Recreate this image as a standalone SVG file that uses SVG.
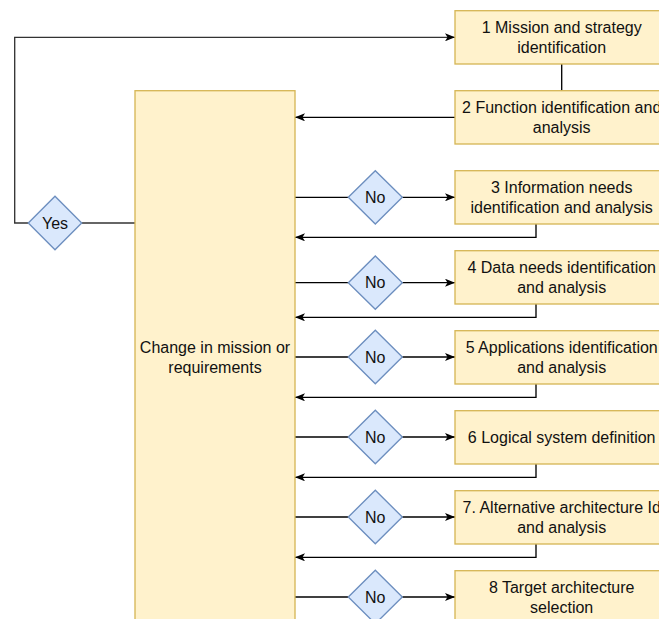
<svg xmlns="http://www.w3.org/2000/svg" width="659" height="619" viewBox="0 0 659 619">
<style>
.box{fill:#fff2cc;stroke:#d6b656;stroke-width:1.33}
.dia{fill:#dae8fc;stroke:#6c8ebf;stroke-width:1.33}
.t{font-family:"Liberation Sans",Arial,sans-serif;font-size:16px;fill:#111;text-anchor:middle}
.ln{fill:none;stroke:#000;stroke-width:1.33}
.ln2{fill:none;stroke:#333;stroke-width:1.33}
</style>
<defs>
<marker id="arr" viewBox="0 0 10 8" refX="10" refY="4" markerWidth="10" markerHeight="8" markerUnits="userSpaceOnUse" orient="auto">
<path d="M0,0 L10,4 L0,8 L2.5,4 Z" fill="#000"/>
</marker>
</defs>
<rect width="659" height="619" fill="#fff"/>
<g id="connectors">
<path class="ln2" d="M28.3,223 H14.7 V37.3 H455" marker-end="url(#arr)"/>
<path class="ln2" d="M81.7,223 H135"/>
<path class="ln" d="M561.7,64 V90.7"/>
<path class="ln" d="M455,117.3 H295" marker-end="url(#arr)"/>
<path class="ln" d="M295,197.3 H348.3"/>
<path class="ln" d="M402.3,197.3 H455" marker-end="url(#arr)"/>
<path class="ln" d="M536,224 V237.3 H295" marker-end="url(#arr)"/>
<path class="ln" d="M295,282.7 H348.3"/>
<path class="ln" d="M402.3,282.7 H455" marker-end="url(#arr)"/>
<path class="ln" d="M536,304 V317.3 H295" marker-end="url(#arr)"/>
<path class="ln" d="M295,357 H348.3"/>
<path class="ln" d="M402.3,357 H455" marker-end="url(#arr)"/>
<path class="ln" d="M536,384 V397.3 H295" marker-end="url(#arr)"/>
<path class="ln" d="M295,437 H348.3"/>
<path class="ln" d="M402.3,437 H455" marker-end="url(#arr)"/>
<path class="ln" d="M536,464 V477.3 H295" marker-end="url(#arr)"/>
<path class="ln" d="M295,517 H348.3"/>
<path class="ln" d="M402.3,517 H455" marker-end="url(#arr)"/>
<path class="ln" d="M536,544 V557.3 H295" marker-end="url(#arr)"/>
<path class="ln" d="M295,597 H348.3"/>
<path class="ln" d="M402.3,597 H455" marker-end="url(#arr)"/>
</g>
<g id="change">
<rect class="box" x="135" y="90.7" width="160" height="533.3"/>
<text class="t" x="215" y="353">Change in mission or</text>
<text class="t" x="215" y="373">requirements</text>
</g>
<g id="yes">
<path class="dia" d="M28.3,223 L55,196.3 L81.7,223 L55,249.7 Z"/>
<text class="t" x="55" y="228.8">Yes</text>
</g>
<g id="box1">
<rect class="box" x="455" y="10.7" width="213.3" height="53.3"/>
<text class="t" x="561.7" y="33">1 Mission and strategy</text>
<text class="t" x="561.7" y="53">identification</text>
</g>
<g id="box2">
<rect class="box" x="455" y="90.7" width="213.3" height="53.3"/>
<text class="t" x="561.7" y="113">2 Function identification and</text>
<text class="t" x="561.7" y="133">analysis</text>
</g>
<g id="box3">
<rect class="box" x="455" y="170.7" width="213.3" height="53.3"/>
<text class="t" x="561.7" y="193">3 Information needs</text>
<text class="t" x="561.7" y="213">identification and analysis</text>
</g>
<g id="box4">
<rect class="box" x="455" y="250.7" width="213.3" height="53.3"/>
<text class="t" x="561.7" y="273">4 Data needs identification</text>
<text class="t" x="561.7" y="293">and analysis</text>
</g>
<g id="box5">
<rect class="box" x="455" y="330.7" width="213.3" height="53.3"/>
<text class="t" x="561.7" y="353">5 Applications identification</text>
<text class="t" x="561.7" y="373">and analysis</text>
</g>
<g id="box6">
<rect class="box" x="455" y="410.7" width="213.3" height="53.3"/>
<text class="t" x="561.7" y="442.8">6 Logical system definition</text>
</g>
<g id="box7">
<rect class="box" x="455" y="490.7" width="213.3" height="53.3"/>
<text class="t" x="561.7" y="513">7. Alternative architecture Id</text>
<text class="t" x="561.7" y="533">and analysis</text>
</g>
<g id="box8">
<rect class="box" x="455" y="570.7" width="213.3" height="53.3"/>
<text class="t" x="561.7" y="593">8 Target architecture</text>
<text class="t" x="561.7" y="613">selection</text>
</g>
<g id="no3"><path class="dia" d="M348.3,197.3 L375.3,170.7 L402.3,197.3 L375.3,224 Z"/><text class="t" x="375.3" y="203">No</text></g>
<g id="no4"><path class="dia" d="M348.3,282.7 L375.3,256 L402.3,282.7 L375.3,309.3 Z"/><text class="t" x="375.3" y="288.4">No</text></g>
<g id="no5"><path class="dia" d="M348.3,357 L375.3,330.3 L402.3,357 L375.3,383.7 Z"/><text class="t" x="375.3" y="362.7">No</text></g>
<g id="no6"><path class="dia" d="M348.3,437 L375.3,410.3 L402.3,437 L375.3,463.7 Z"/><text class="t" x="375.3" y="442.7">No</text></g>
<g id="no7"><path class="dia" d="M348.3,517 L375.3,490.3 L402.3,517 L375.3,543.7 Z"/><text class="t" x="375.3" y="522.7">No</text></g>
<g id="no8"><path class="dia" d="M348.3,597 L375.3,570.3 L402.3,597 L375.3,623.7 Z"/><text class="t" x="375.3" y="602.7">No</text></g>
</svg>
